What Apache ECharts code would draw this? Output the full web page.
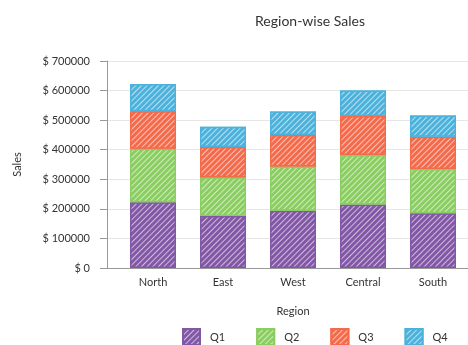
<!DOCTYPE html>
<html>
<head>
<meta charset="utf-8">
<style>
  html, body { margin: 0; padding: 0; background: #fff; }
  #chart { width: 468px; height: 345px; }
</style>
<script src="https://cdn.jsdelivr.net/npm/echarts@6/dist/echarts.min.js"></script>
</head>
<body>
<div id="chart"></div>
<script>
// Quarterly sales per region (stacked)
const regions = ['North', 'East', 'West', 'Central', 'South'];
const q1 = [222000, 176000, 194000, 215000, 185000];
const q2 = [181000, 131000, 149000, 167000, 150000];
const q3 = [127000, 102000, 107000, 132000, 109000];
const q4 = [92000, 69000, 79000, 86000, 72000];
const quarterNames = ['Q1', 'Q2', 'Q3', 'Q4'];
const quarterColors = ['#8257a6', '#8acd60', '#f46a4b', '#4cb2dc'];
const yTicks = { min: 0, max: 700000, interval: 100000 };

const FONT = 'Lato';
const chart = echarts.init(document.getElementById('chart'), null, { renderer: 'canvas' });

// diagonal white hatching over a solid fill
const hatch = (color) => ({
  color: color,
  borderColor: color,
  borderWidth: 1.5,
  decal: {
    symbol: 'rect',
    symbolSize: 1,
    color: 'rgba(255,255,255,0.6)',
    dashArrayX: [1, 0],
    dashArrayY: [1, 2.6],
    rotation: -Math.PI / 4
  }
});

const quarters = [q1, q2, q3, q4];

// legend entries: label sits a little further from its swatch
const legendItems = quarterNames.map((name, i) => ({
  name: name,
  textStyle: { padding: [0, i === 1 ? 9 : 0, 0, 5] }
}));

chart.setOption({
  backgroundColor: '#fff',
  animation: false,
  title: {
    text: 'Region-wise Sales',
    left: 305,
    top: 9,
    textAlign: 'center',
    textStyle: { fontFamily: FONT, fontSize: 14, fontWeight: 'normal', color: '#333' }
  },
  legend: {
    left: 182,
    top: 328,
    padding: 0,
    itemWidth: 17,
    itemHeight: 16,
    itemGap: 31,
    icon: 'rect',
    textStyle: { fontFamily: FONT, fontSize: 11, color: '#333' },
    data: legendItems
  },
  grid: [
    // narrow strip holding the value axis
    { left: 107, top: 61, width: 11, bottom: 77 },
    // plotting area for the bars
    { left: 118, top: 61, width: 360, bottom: 77 }
  ],
  xAxis: [
    {
      gridIndex: 0, type: 'value', min: 0, max: 1,
      axisLine: { show: true, lineStyle: { color: '#999', width: 1 } },
      axisTick: { show: false }, axisLabel: { show: false }, splitLine: { show: false }
    },
    {
      gridIndex: 1, type: 'category', data: regions,
      name: 'Region', nameLocation: 'middle', nameGap: 38,
      nameTextStyle: { fontFamily: FONT, fontSize: 11, color: '#333' },
      axisLine: { show: true, lineStyle: { color: '#999', width: 1 } },
      axisTick: { show: false },
      axisLabel: { fontFamily: FONT, fontSize: 11, color: '#333', margin: 9 }
    }
  ],
  yAxis: [
    {
      gridIndex: 0, type: 'value', min: yTicks.min, max: yTicks.max, interval: yTicks.interval,
      name: 'Sales', nameLocation: 'middle', nameGap: 84,
      nameTextStyle: { fontFamily: FONT, fontSize: 11, color: '#333' },
      axisLine: { show: true, lineStyle: { color: '#999', width: 1 } },
      axisTick: { show: true, length: 7, lineStyle: { color: '#999' } },
      axisLabel: {
        fontFamily: FONT, fontSize: 11, color: '#333', margin: 17,
        formatter: (v) => '$ ' + v
      },
      splitLine: { show: true, lineStyle: { color: '#e6e6e6', width: 1 } }
    },
    {
      gridIndex: 1, type: 'value', min: yTicks.min, max: yTicks.max, interval: yTicks.interval,
      axisLine: { show: false }, axisTick: { show: false }, axisLabel: { show: false },
      splitLine: { show: true, lineStyle: { color: '#e6e6e6', width: 1 } }
    }
  ],
  series: quarters.map((vals, i) => ({
    name: quarterNames[i],
    type: 'bar',
    stack: 'sales',
    xAxisIndex: 1,
    yAxisIndex: 1,
    barWidth: 46,
    data: vals,
    itemStyle: hatch(quarterColors[i])
  }))
});
</script>
</body>
</html>
